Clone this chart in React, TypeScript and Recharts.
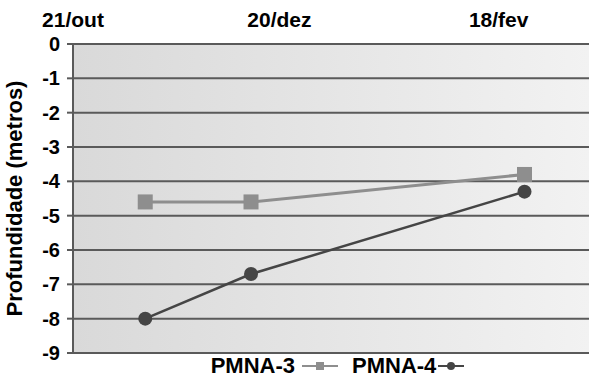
import { LineChart, Line, XAxis, YAxis, CartesianGrid, Legend } from 'recharts'

// Collection dates shown across the top
const dateLabels = ['21/out', '20/dez', '18/fev']
const datePositions = [0, 4, 8.25]

// Sampling positions on the same scale as the date labels
const samplePositions = [1.4, 3.45, 8.75]

// Water table depth (metros)
const pmna3 = [-4.6, -4.6, -3.8]
const pmna4 = [-8.0, -6.7, -4.3]

const depthTicks = [0, -1, -2, -3, -4, -5, -6, -7, -8, -9]

const FONT = '"Liberation Sans", Arial, sans-serif'
const COLOR_3 = '#8e8e8e'
const COLOR_4 = '#454545'

const data = samplePositions.map((x, i) => ({ x, pmna3: pmna3[i], pmna4: pmna4[i] }))

const SquareDot = (props: any) => {
  const { cx, cy } = props
  if (cx == null || cy == null) return null
  return <rect x={cx - 7.5} y={cy - 7.5} width={15} height={15} fill={COLOR_3} />
}

const DateTick = (props: any) => {
  const { x, payload } = props
  const idx = datePositions.indexOf(payload.value)
  return (
    <text x={x} y={27} textAnchor="middle" fontFamily={FONT} fontWeight="bold" fontSize={21} fill="#000">
      {dateLabels[idx]}
    </text>
  )
}

const DepthTick = (props: any) => {
  const { y, payload } = props
  return (
    <text x={60} y={y} dy={7} textAnchor="end" fontFamily={FONT} fontWeight="bold" fontSize={20} fill="#000">
      {payload.value}
    </text>
  )
}

const LegendContent = () => (
  <div
    style={{
      display: 'flex',
      justifyContent: 'center',
      alignItems: 'center',
      fontFamily: FONT,
      fontWeight: 'bold',
      fontSize: 22,
      color: '#000',
      paddingLeft: 88,
    }}
  >
    <span>PMNA-3</span>
    <svg width={44} height={14} style={{ marginLeft: 3 }}>
      <line x1={4} y1={7} x2={40} y2={7} stroke={COLOR_3} strokeWidth={2} />
      <rect x={18} y={3} width={8} height={8} fill={COLOR_3} />
    </svg>
    <span style={{ marginLeft: 10 }}>PMNA-4</span>
    <svg width={30} height={14}>
      <line x1={2} y1={7} x2={28} y2={7} stroke={COLOR_4} strokeWidth={2} />
      <circle cx={15} cy={7} r={4} fill={COLOR_4} />
    </svg>
  </div>
)

export default function App() {
  return (
    <div style={{ position: 'absolute', left: 0, top: 0, background: '#fff' }}>
      <LineChart width={589} height={386} data={data} margin={{ top: 0, right: 0, bottom: 33, left: 0 }}>
        <defs>
          <linearGradient id="plotBg" x1="0" y1="0" x2="1" y2="0">
            <stop offset="0%" stopColor="#d9d9d9" />
            <stop offset="100%" stopColor="#f2f2f2" />
          </linearGradient>
        </defs>
        <CartesianGrid vertical={false} stroke="#5a5a5a" strokeWidth={2} fill="url(#plotBg)" horizontalValues={depthTicks} />
        <XAxis
          dataKey="x"
          type="number"
          orientation="top"
          domain={[0, 10]}
          ticks={datePositions}
          height={44}
          axisLine={false}
          tickLine={false}
          tick={<DateTick />}
          interval={0}
        />
        <YAxis
          type="number"
          domain={[-9, 0]}
          ticks={depthTicks}
          width={73}
          interval={0}
          axisLine={{ stroke: '#5a5a5a', strokeWidth: 2 }}
          tickLine={{ stroke: '#5a5a5a', strokeWidth: 2 }}
          tickSize={6}
          tick={<DepthTick />}
          label={{
            value: 'Profundidade (metros)',
            angle: -90,
            position: 'insideLeft',
            offset: 14,
            style: { fontFamily: FONT, fontWeight: 'bold', fontSize: 22, fill: '#000', textAnchor: 'middle' },
          }}
        />
        <Legend
          layout="horizontal"
          verticalAlign="middle"
          align="center"
          wrapperStyle={{ top: 353, left: 0, width: 589 }}
          content={<LegendContent />}
        />
        <Line
          dataKey="pmna3"
          name="PMNA-3"
          stroke={COLOR_3}
          strokeWidth={3}
          dot={<SquareDot />}
          activeDot={false}
          isAnimationActive={false}
        />
        <Line
          dataKey="pmna4"
          name="PMNA-4"
          stroke={COLOR_4}
          strokeWidth={2.5}
          dot={{ r: 7, fill: COLOR_4, stroke: COLOR_4, strokeWidth: 0 }}
          activeDot={false}
          isAnimationActive={false}
        />
      </LineChart>
    </div>
  )
}
